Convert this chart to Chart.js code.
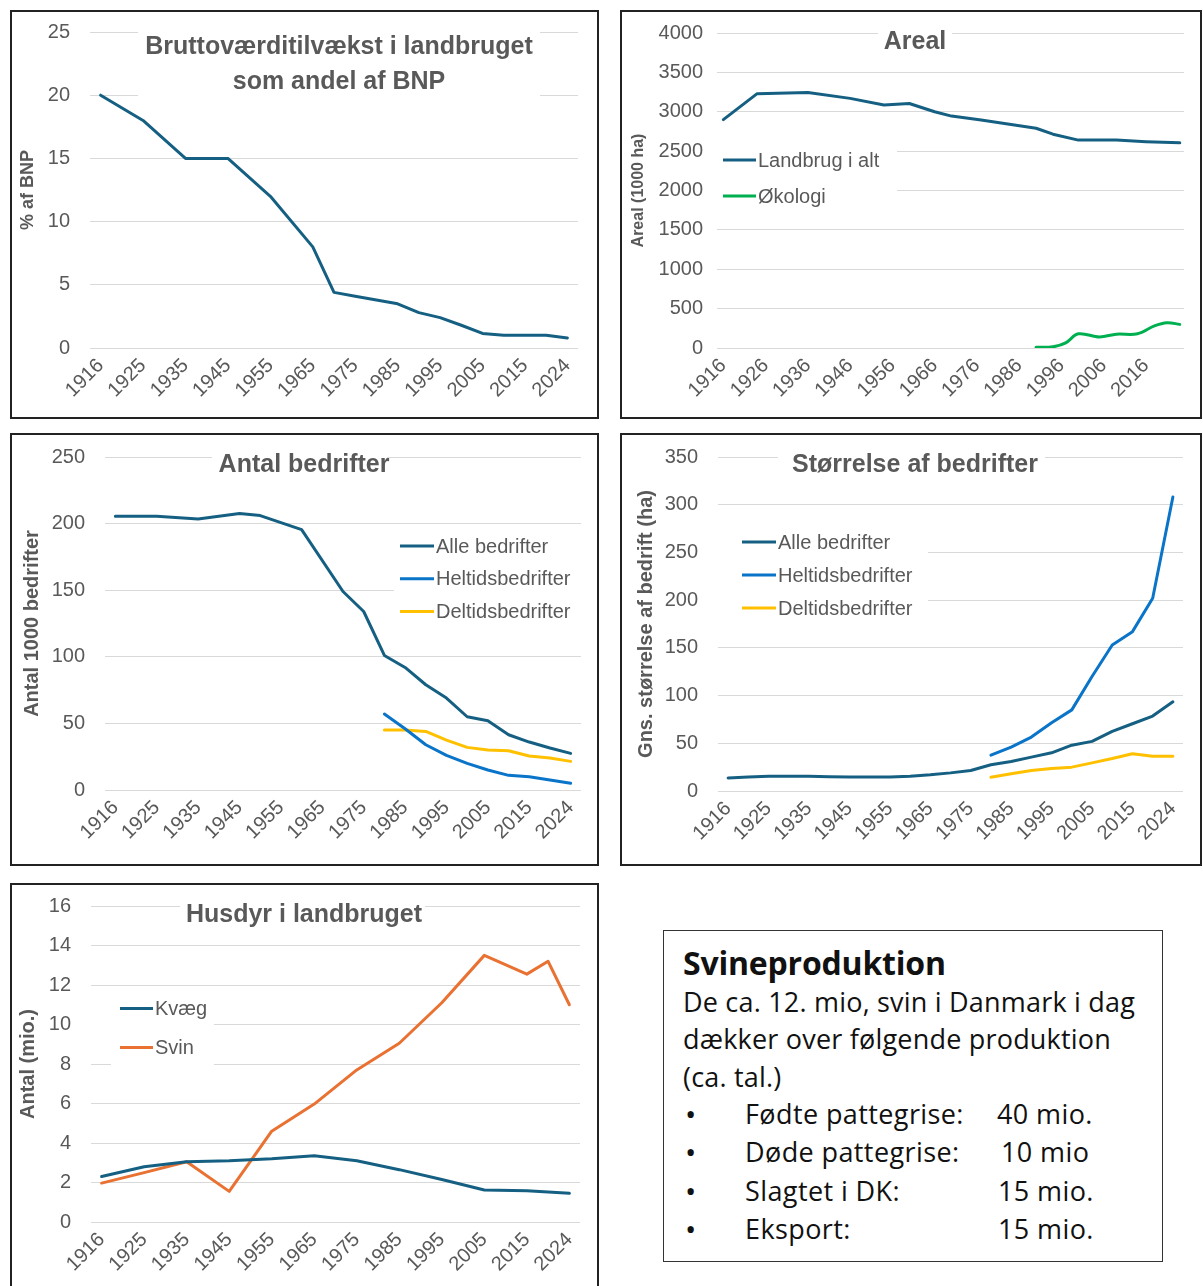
<!DOCTYPE html>
<html>
<head>
<meta charset="utf-8">
<script src="https://cdn.jsdelivr.net/npm/chart.js@4.4.1/dist/chart.umd.min.js"></script>
<style>
  body { margin: 0; background: #fff; width: 1203px; height: 1286px; position: relative; overflow: hidden; font-family: "Liberation Sans", Arial, sans-serif; }
  .panel { position: absolute; border: 2px solid #222; box-sizing: border-box; background: #fff; }
  .panel canvas { display: block; }
  #info { position: absolute; left: 663px; top: 930px; width: 500px; height: 332px; box-sizing: border-box; border: 1.5px solid #333; padding: 12px 0 0 19px; font-family: "Open Sans", sans-serif; color: #111; }
  #info h2 { margin: 0; font-size: 32px; line-height: 40px; font-weight: 700; letter-spacing: -0.2px; }
  #info p { margin: 0; font-size: 27px; line-height: 37.3px; letter-spacing: 0.2px; }
  #info .row { position: relative; height: 38.5px; font-size: 27px; line-height: 38.5px; letter-spacing: 0.4px; }
  #info .row span { position: absolute; top: 0; }
  #info .row span.b { font-size: 30px; left: 2px; }
</style>
</head>
<body>
<div class="panel" style="left:10px;top:10px;width:589px;height:409px"><canvas id="c1" width="585" height="405"></canvas></div>
<div class="panel" style="left:620px;top:10px;width:582px;height:409px"><canvas id="c2" width="578" height="405"></canvas></div>
<div class="panel" style="left:10px;top:433px;width:589px;height:433px"><canvas id="c3" width="585" height="429"></canvas></div>
<div class="panel" style="left:620px;top:433px;width:582px;height:433px"><canvas id="c4" width="578" height="429"></canvas></div>
<div class="panel" style="left:10px;top:883px;width:589px;height:410px"><canvas id="c5" width="585" height="406"></canvas></div>

<div id="info">
  <h2>Svineproduktion</h2>
  <p>De ca. 12. mio, svin i Danmark i dag</p>
  <p>dækker over følgende produktion</p>
  <p>(ca. tal.)</p>
  <div class="row"><span class="b">•</span><span style="left:62px">Fødte pattegrise:</span><span style="left:314px">40 mio.</span></div>
  <div class="row"><span class="b">•</span><span style="left:62px">Døde pattegrise:</span><span style="left:318px">10 mio</span></div>
  <div class="row"><span class="b">•</span><span style="left:62px">Slagtet i DK:</span><span style="left:315px">15 mio.</span></div>
  <div class="row"><span class="b">•</span><span style="left:62px">Eksport:</span><span style="left:315px">15 mio.</span></div>
</div>

<script>
// categories shared by the category-axis charts (labels shown every other)
const years = ["1916","1920","1925","1930","1935","1940","1945","1950","1955","1960","1965","1970",
  "1975","1980","1985","1990","1995","2000","2005","2010","2015","2020","2024"];

// Bruttoværditilvækst som andel af BNP (%)
const bnpShare = [20, null, 18, null, 15, null, 15, null, 12, null, 8, 4.4, 4.1, 3.8, 3.5, 2.8, 2.4, 1.8, 1.15, 1.0, 1.0, 1.0, 0.8];

// Areal (1000 ha), plotted on a year axis
const arealYears = [1916, 1924, 1936, 1946, 1954, 1960, 1966, 1970, 1977, 1990, 1994, 2000, 2009, 2016, 2024];
const arealTotal = [2900, 3230, 3245, 3170, 3085, 3105, 3000, 2945, 2895, 2790, 2715, 2640, 2640, 2620, 2605];
const okoYears = [1990, 1994, 1997, 2000, 2005, 2009, 2014, 2018, 2021, 2024];
const okoArea = [8, 15, 65, 180, 140, 175, 180, 280, 320, 300];
const arealTicks = [1916, 1926, 1936, 1946, 1956, 1966, 1976, 1986, 1996, 2006, 2016];

// Antal bedrifter (1000)
const bedrAlle = [205.5, null, 205.5, null, 203.5, null, 207.5, 206, null, 195.5, null, 149, 134, 101, 92, 79, 69, 55, 52, 41.5, 36, 31.5, 27.5];
const bedrHel = [null, null, null, null, null, null, null, null, null, null, null, null, null, 57, 46, 34, 26, 20, 15, 11, 10, 7.5, 5];
const bedrDel = [null, null, null, null, null, null, null, null, null, null, null, null, null, 45, 45, 44, 37.5, 32, 30, 29.5, 25.5, 24, 21.5];

// Gns. størrelse af bedrift (ha)
const storAlle = [13.7, 14.7, 15.5, 15.5, 15.5, 15, 14.7, 14.7, 14.7, 15.5, 17, 19, 21.5, 27.5, 31, 35.5, 40, 48, 52, 62.5, 70.5, 78.5, 93.5];
const storHel = [null, null, null, null, null, null, null, null, null, null, null, null, null, 37.5, 46, 56.5, 71.5, 85, 120, 153, 167, 202, 308];
const storDel = [null, null, null, null, null, null, null, null, null, null, null, null, null, 14.5, 18, 21.5, 23.5, 25, 29.5, 34, 39, 36.5, 36.5];

// Husdyr (mio.)
const kvaeg = [2.3, null, 2.8, null, 3.05, null, 3.1, null, 3.2, null, 3.35, null, 3.1, null, 2.65, null, 2.15, null, 1.62, null, 1.58, null, 1.45];
const svin = [1.97, null, 2.5, null, 3.05, null, 1.55, null, 4.6, null, 5.97, null, 7.7, null, 9.05, null, 11.1, null, 13.5, null, 12.55, 13.2, 11.0];

const GREY = "#595959";
const DARK = "#156082", GREEN = "#00B050", BLUE = "#0A74C9", YELLOW = "#FFC000", ORANGE = "#E97132";

Chart.defaults.font.family = '"Liberation Sans", Arial, sans-serif';
Chart.defaults.font.size = 20;
Chart.defaults.color = GREY;

// in-plot title and legend, Excel style (white box behind, breaking gridlines)
const overlays = {
  c1: { title: ["Bruttoværditilvækst i landbruget", "som andel af BNP"], tx: 327, ty: 35, tgap: 35,
        boxes: [[126, 8, 402, 88]] },
  c2: { title: ["Areal"], tx: 293, ty: 30, boxes: [[256, 8, 74, 44], [95, 128, 180, 70]],
        lx: 101, lw: 33, ly: 148, lgap: 36 },
  c3: { title: ["Antal bedrifter"], tx: 292, ty: 30, boxes: [[200, 8, 175, 40], [382, 95, 187, 100]],
        lx: 388, lw: 34, ly: 111, lgap: 32.7 },
  c4: { title: ["Størrelse af bedrifter"], tx: 293, ty: 30, boxes: [[156, 8, 267, 40], [96, 90, 210, 100]],
        lx: 120, lw: 34, ly: 107, lgap: 33 },
  c5: { title: ["Husdyr i landbruget"], tx: 292, ty: 30, boxes: [[168, 8, 245, 40], [79, 112, 123, 40], [99, 150, 103, 40]],
        lx: 108, lw: 33, ly: 123.5, lgap: 39 }
};

const overlayPlugin = {
  id: "overlay",
  beforeDatasetsDraw(chart) {
    const o = overlays[chart.canvas.id];
    const ctx = chart.ctx;
    ctx.save();
    ctx.fillStyle = "#fff";
    o.boxes.forEach(b => ctx.fillRect(b[0], b[1], b[2], b[3]));
    ctx.restore();
  },
  afterDraw(chart) {
    const o = overlays[chart.canvas.id];
    const ctx = chart.ctx;
    ctx.save();
    ctx.fillStyle = GREY;
    ctx.textBaseline = "middle";
    ctx.textAlign = "center";
    ctx.font = 'bold 25px "Liberation Sans", Arial, sans-serif';
    o.title.forEach((t, i) => ctx.fillText(t, o.tx, o.ty + i * (o.tgap || 0)));
    if (o.lx != null && chart.data.datasets.length > 1) {
      ctx.textAlign = "left";
      ctx.font = '20px "Liberation Sans", Arial, sans-serif';
      chart.data.datasets.forEach((ds, i) => {
        const y = o.ly + i * o.lgap;
        ctx.strokeStyle = ds.borderColor;
        ctx.lineWidth = 3;
        ctx.beginPath();
        ctx.moveTo(o.lx, y);
        ctx.lineTo(o.lx + o.lw, y);
        ctx.stroke();
        ctx.fillText(ds.label, o.lx + o.lw + 2, y + 1);
      });
    }
    ctx.restore();
  }
};

function line(label, data, color, extra) {
  return Object.assign({ label, data, borderColor: color, backgroundColor: color, borderWidth: 3,
    pointRadius: 0, tension: 0, spanGaps: true, borderJoinStyle: "round", borderCapStyle: "round" }, extra || {});
}

// area = [left, top, right, bottom] of the plot inside the canvas
function makeChart(id, datasets, y, area, yTitle, xOpts, labels) {
  const el = document.getElementById(id);
  const w = el.width, h = el.height;
  const xScale = Object.assign({
    type: "category",
    offset: true,
    grid: { display: false, drawTicks: false },
    border: { display: false },
    ticks: {
      autoSkip: false, minRotation: 45, maxRotation: 45, padding: 6,
      callback: function (v, i) { return i % 2 === 0 ? this.getLabelForValue(v) : ""; }
    }
  }, xOpts || {});
  xScale.afterFit = s => { s.height = h - area[3]; s.paddingLeft = 0; s.paddingRight = 0; };
  return new Chart(el, {
    type: "line",
    data: { labels: labels, datasets },
    options: {
      responsive: false,
      animation: false,
      layout: { padding: { left: 0, top: area[1], right: w - area[2], bottom: 0 } },
      plugins: { legend: { display: false }, tooltip: { enabled: false } },
      scales: {
        x: xScale,
        y: {
          min: y.min, max: y.max,
          grid: { color: "#D9D9D9", lineWidth: 1, drawTicks: false },
          border: { display: false },
          ticks: { stepSize: y.step, padding: y.pad, callback: v => String(v) },
          title: { display: true, text: yTitle.text, color: GREY,
                   font: { size: yTitle.size, weight: "bold" }, padding: { top: yTitle.pad, bottom: 0 } },
          afterFit: s => { s.width = area[0]; s.paddingTop = 0; s.paddingBottom = 0; }
        }
      }
    },
    plugins: [overlayPlugin]
  });
}

makeChart("c1",
  [line("Bruttoværditilvækst", bnpShare, DARK)],
  { min: 0, max: 25, step: 5, pad: 20 }, [78, 20, 566, 336],
  { text: "% af BNP", size: 18, pad: 5 }, null, years);

makeChart("c2",
  [line("Landbrug i alt", arealYears.map((x, i) => ({ x, y: arealTotal[i] })), DARK),
   line("Økologi", okoYears.map((x, i) => ({ x, y: okoArea[i] })), GREEN, { tension: 0.35 })],
  { min: 0, max: 4000, step: 500, pad: 14 }, [95, 21, 562, 336],
  { text: "Areal (1000 ha)", size: 16, pad: 7 },
  {
    type: "linear", min: 1914.5, max: 2025, offset: false,
    grid: { display: false, drawTicks: false },
    border: { display: false },
    afterBuildTicks: s => { s.ticks = arealTicks.map(v => ({ value: v })); },
    ticks: { autoSkip: false, minRotation: 45, maxRotation: 45, padding: 6, callback: v => String(v) }
  });

makeChart("c3",
  [line("Alle bedrifter", bedrAlle, DARK), line("Heltidsbedrifter", bedrHel, BLUE), line("Deltidsbedrifter", bedrDel, YELLOW)],
  { min: 0, max: 250, step: 50, pad: 20 }, [93, 22, 569, 355],
  { text: "Antal 1000 bedrifter", size: 20, pad: 8 }, null, years);

makeChart("c4",
  [line("Alle bedrifter", storAlle, DARK), line("Heltidsbedrifter", storHel, BLUE), line("Deltidsbedrifter", storDel, YELLOW)],
  { min: 0, max: 350, step: 50, pad: 20 }, [96, 22, 561, 356],
  { text: "Gns. størrelse af bedrift (ha)", size: 20, pad: 12 }, null, years);

makeChart("c5",
  [line("Kvæg", kvaeg, DARK), line("Svin", svin, ORANGE)],
  { min: 0, max: 16, step: 2, pad: 20 }, [79, 21, 568, 337],
  { text: "Antal (mio.)", size: 20, pad: 4 }, null, years);
</script>
</body>
</html>
